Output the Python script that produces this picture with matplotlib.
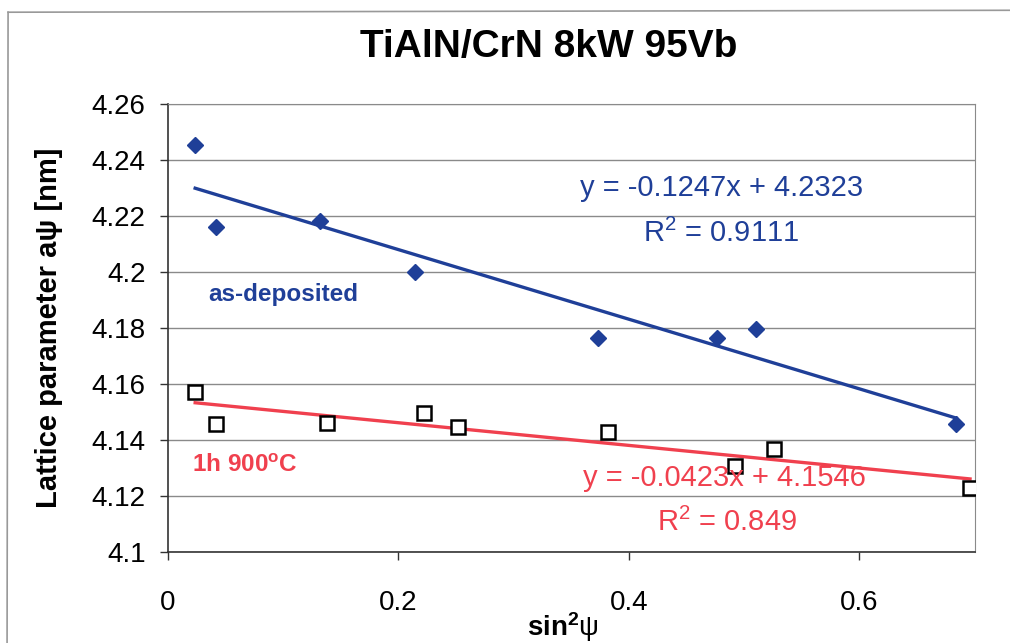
import numpy as np
import matplotlib.pyplot as plt
from matplotlib.lines import Line2D

# values
x_dep = [0.0236, 0.042, 0.132, 0.214, 0.373, 0.476, 0.510, 0.684]
y_dep = [4.2454, 4.2161, 4.2182, 4.2000, 4.1764, 4.1764, 4.1796, 4.1457]

x_ann = [0.0236, 0.042, 0.138, 0.222, 0.2515, 0.3817, 0.4917, 0.526, 0.696]
y_ann = [4.1571, 4.1457, 4.1460, 4.1496, 4.1446, 4.1429, 4.1307, 4.1367, 4.1229]

yticks = [4.1, 4.12, 4.14, 4.16, 4.18, 4.2, 4.22, 4.24, 4.26]
ytick_labels = ['4.1', '4.12', '4.14', '4.16', '4.18', '4.2', '4.22', '4.24', '4.26']
xticks = [0, 0.2, 0.4, 0.6]
xtick_labels = ['0', '0.2', '0.4', '0.6']

blue = '#1f3f98'
red = '#f0404e'

plt.rcParams['font.family'] = ['Liberation Sans', 'DejaVu Sans']
plt.rcParams['mathtext.fontset'] = 'custom'
plt.rcParams['mathtext.rm'] = 'Liberation Sans'
plt.rcParams['mathtext.bf'] = 'Liberation Sans:bold'
plt.rcParams['mathtext.it'] = 'Liberation Sans:italic'

fig = plt.figure(figsize=(10.1, 6.43), dpi=100)
ax = fig.add_axes([0.1663, 0.1415, 0.7987, 0.6967])

# outer chart frame (only top and left edges visible in the scan)
fig.add_artist(Line2D([0.008, 1.0], [0.981, 0.984], transform=fig.transFigure,
                      color='#999999', linewidth=1.2))
fig.add_artist(Line2D([0.008, 0.007], [0.981, 0.0], transform=fig.transFigure,
                      color='#999999', linewidth=1.2))

ax.set_xlim(0, 0.7)
ax.set_ylim(4.1, 4.26)
ax.set_yticks(yticks)
ax.set_yticklabels(ytick_labels)
ax.set_xticks(xticks)
ax.set_xticklabels(xtick_labels)
ax.tick_params(axis='both', labelsize=20, direction='out', length=6, width=1, color='#333333')
ax.tick_params(axis='x', pad=21)
ax.tick_params(axis='y', pad=10)
ax.grid(axis='y', color='#8a8a8a', linewidth=1.0)
ax.set_axisbelow(True)
for s in ['top', 'right']:
    ax.spines[s].set_color('#8a8a8a')
for s in ['left', 'bottom']:
    ax.spines[s].set_color('#333333')
    ax.spines[s].set_linewidth(1.2)

# trend lines (least squares)
k1, b1 = np.polyfit(x_dep, y_dep, 1)
xl1 = np.array([min(x_dep), max(x_dep)])
ax.plot(xl1, k1 * xl1 + b1, color=blue, linewidth=2.4, zorder=2)

k2, b2 = np.polyfit(x_ann, y_ann, 1)
xl2 = np.array([min(x_ann), max(x_ann)])
ax.plot(xl2, k2 * xl2 + b2, color=red, linewidth=2.4, zorder=2)

ax.plot(x_dep, y_dep, linestyle='none', marker='D', markersize=8.5,
        color=blue, zorder=3)
ax.plot(x_ann, y_ann, linestyle='none', marker='s', markersize=10,
        markerfacecolor='white', markeredgecolor='black', markeredgewidth=1.8, zorder=3)

ax.text(0.480, 4.230, 'y = -0.1247x + 4.2323', color=blue, fontsize=21, ha='center', va='center')
ax.text(0.480, 4.2139, 'R$^2$ = 0.9111', color=blue, fontsize=21, ha='center', va='center')
ax.text(0.1004, 4.1918, 'as-deposited', color=blue, fontsize=17.5, fontweight='bold',
        ha='center', va='center')
ax.text(0.067, 4.131, r'1h 900$^{\mathbf{o}}$C', color=red, fontsize=17.5, fontweight='bold',
        ha='center', va='center')
ax.text(0.483, 4.1264, 'y = -0.0423x + 4.1546', color=red, fontsize=21, ha='center', va='center')
ax.text(0.485, 4.1107, 'R$^2$ = 0.849', color=red, fontsize=21, ha='center', va='center')

fig.text(549 / 1010, 1 - 47 / 643, 'TiAlN/CrN 8kW 95Vb', fontsize=28, fontweight='bold',
         ha='center', va='center')
ax.set_ylabel('Lattice parameter aψ [nm]', fontsize=21, fontweight='bold')
ax.yaxis.set_label_coords(-0.13, 0.5)
ax.set_xlabel(r'$\mathbf{sin}^{\mathbf{2}}$' + 'ψ', fontsize=20)
ax.xaxis.set_label_coords(0.49, -0.13)

fig.savefig('out.png', dpi=100)
